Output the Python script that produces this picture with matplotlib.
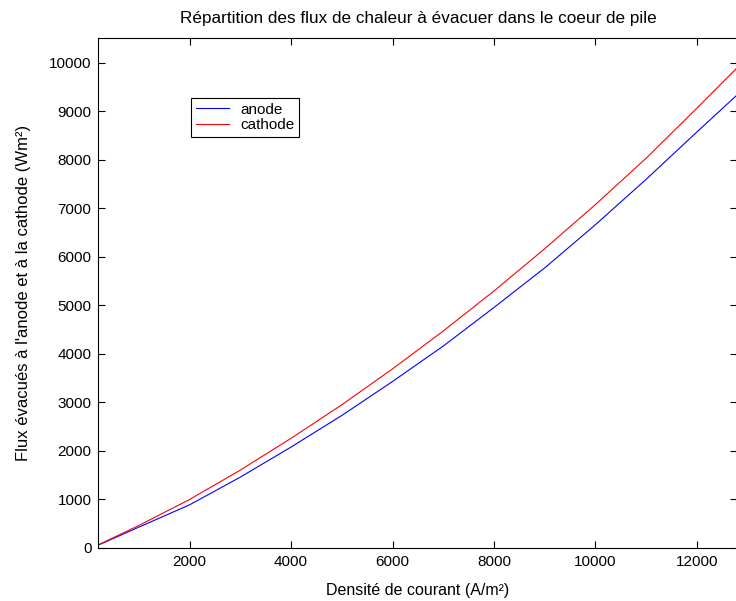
import matplotlib
matplotlib.use("Agg")
import matplotlib.pyplot as plt

plt.rcParams['font.family'] = ['Liberation Sans', 'DejaVu Sans']
plt.rcParams['font.size'] = 11

# values
densite = [200, 1000, 2000, 3000, 4000, 5000, 6000, 7000, 8000, 9000, 10000, 11000, 12000, 12800]
anode = [60, 430, 890, 1460, 2080, 2730, 3430, 4160, 4955, 5770, 6660, 7595, 8570, 9340]
cathode = [65, 465, 1000, 1605, 2260, 2950, 3690, 4470, 5295, 6165, 7075, 8030, 9060, 9900]

fig = plt.figure(figsize=(7.36, 6.01), dpi=100)
ax = fig.add_axes([0.1336, 0.0882, 0.8684, 0.8481])

ax.plot(densite, anode, "b-", linewidth=0.8, label="anode")
ax.plot(densite, cathode, "r-", linewidth=0.8, label="cathode")

ax.set_xlim(200, 12800)
ax.set_ylim(0, 10500)
ax.set_xticks(range(2000, 12001, 2000))
ax.set_yticks(range(0, 10001, 1000))
ax.tick_params(direction="in", top=True, right=True, length=5, width=0.8, pad=5)
for s in ax.spines.values():
    s.set_linewidth(0.8)

ax.set_title("Répartition des flux de chaleur à évacuer dans le coeur de pile",
             fontsize=12.3, pad=11)
ax.set_xlabel("Densité de courant (A/m²)", fontsize=11.5, labelpad=10)
ax.set_ylabel("Flux évacués à l'anode et à la cathode (Wm²)", fontsize=12, labelpad=13)

leg = ax.legend(loc="upper left", bbox_to_anchor=(0.1454, 0.883), borderaxespad=0,
                fancybox=False, framealpha=1, edgecolor="black", handlelength=2.2,
                handletextpad=0.7, borderpad=0.3, labelspacing=0.1)
leg.get_frame().set_linewidth(0.8)

fig.savefig("out.png", dpi=100)
